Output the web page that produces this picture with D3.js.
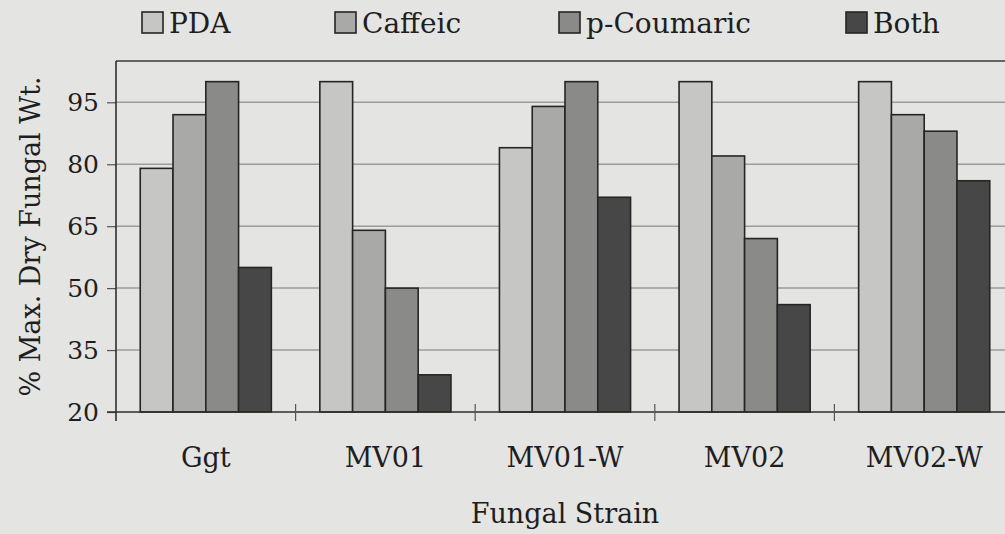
<!DOCTYPE html>
<html>
<head>
<meta charset="utf-8">
<script src="https://cdn.jsdelivr.net/npm/d3@7"></script>
<style>
  html, body { margin: 0; padding: 0; background: #e4e4e2; }
  svg { display: block; }
  text { font-family: "DejaVu Serif", serif; fill: #1e1e1e; }
</style>
</head>
<body>
<svg id="chart" width="1005" height="534"></svg>
<script>
const categories = ["Ggt", "MV01", "MV01-W", "MV02", "MV02-W"];
const seriesNames = ["PDA", "Caffeic", "p-Coumaric", "Both"];
const PDA = [79, 100, 84, 100, 100];
const Caffeic = [92, 64, 94, 82, 92];
const pCoumaric = [100, 50, 100, 62, 88];
const Both = [55, 29, 72, 46, 76];
const yTicks = [20, 35, 50, 65, 80, 95];
const colors = ["#c6c6c4", "#a9a9a7", "#8a8a88", "#474747"];

const seriesValues = [PDA, Caffeic, pCoumaric, Both];

const svg = d3.select("#chart");
const plot = { left: 116, right: 1014, top: 61, bottom: 412 };

const y = d3.scaleLinear().domain([20, 105]).range([plot.bottom, plot.top]);
const x0 = d3.scaleBand().domain(categories).range([plot.left, plot.right]).padding(0);
const step = x0.step();
const groupW = step * 0.73;
const x1 = d3.scaleBand().domain(seriesNames)
  .range([(step - groupW) / 2, (step + groupW) / 2]).padding(0);

// gridlines
svg.append("g").selectAll("line").data(yTicks.filter(t => t > 20)).join("line")
  .attr("x1", plot.left).attr("x2", 1005)
  .attr("y1", d => y(d)).attr("y2", d => y(d))
  .attr("stroke", "#9c9c9a").attr("stroke-width", 1.5);

// top frame
svg.append("line").attr("x1", plot.left).attr("x2", 1005)
  .attr("y1", plot.top).attr("y2", plot.top)
  .attr("stroke", "#3a3a3a").attr("stroke-width", 1.5);

// bars
const groups = svg.append("g").selectAll("g").data(categories).join("g")
  .attr("transform", d => `translate(${x0(d)},0)`);
groups.selectAll("rect")
  .data((c, i) => seriesNames.map((s, j) => ({ s, j, v: seriesValues[j][i] })))
  .join("rect")
  .attr("x", d => x1(d.s))
  .attr("width", x1.bandwidth())
  .attr("y", d => y(d.v))
  .attr("height", d => y(20) - y(d.v))
  .attr("fill", d => colors[d.j])
  .attr("stroke", "#252525").attr("stroke-width", 1.6);

// y axis
const yAxis = d3.axisLeft(y).tickValues(yTicks).tickSize(9).tickPadding(8);
const gy = svg.append("g").attr("transform", `translate(${plot.left},0)`).call(yAxis);
gy.select(".domain").remove();
gy.selectAll(".tick line").attr("stroke", "#555").attr("stroke-width", 1.2);
gy.selectAll(".tick text").style("font-size", "25px").style("font-family", "DejaVu Serif, serif").attr("fill", "#1e1e1e");
svg.append("line").attr("x1", plot.left).attr("x2", plot.left)
  .attr("y1", plot.top).attr("y2", plot.bottom + 9)
  .attr("stroke", "#2e2e2e").attr("stroke-width", 1.6);

// x axis
svg.append("line").attr("x1", plot.left - 9).attr("x2", 1005)
  .attr("y1", plot.bottom).attr("y2", plot.bottom)
  .attr("stroke", "#2e2e2e").attr("stroke-width", 1.6);
const bounds = categories.slice(1).map(c => x0(c));
svg.append("g").selectAll("line").data(bounds).join("line")
  .attr("x1", d => d).attr("x2", d => d)
  .attr("y1", plot.bottom - 8).attr("y2", plot.bottom + 9)
  .attr("stroke", "#555").attr("stroke-width", 1.2);
svg.append("g").selectAll("text").data(categories).join("text")
  .attr("x", d => x0(d) + step / 2)
  .attr("y", 467)
  .attr("text-anchor", "middle")
  .style("font-size", "27px")
  .text(d => d);

// axis titles
svg.append("text").attr("x", (plot.left + plot.right) / 2).attr("y", 523)
  .attr("text-anchor", "middle").style("font-size", "27px").text("Fungal Strain");
svg.append("text").attr("transform", `translate(40,${(plot.top + plot.bottom) / 2}) rotate(-90)`)
  .attr("text-anchor", "middle").style("font-size", "27px").text("% Max. Dry Fungal Wt.");

// legend
const legendX = [142, 335, 559, 846];
const lg = svg.append("g").selectAll("g").data(seriesNames).join("g")
  .attr("transform", (d, i) => `translate(${legendX[i]},12)`);
lg.append("rect").attr("width", 21).attr("height", 21)
  .attr("fill", (d, i) => colors[i]).attr("stroke", "#252525").attr("stroke-width", 1.6);
lg.append("text").attr("x", 27).attr("y", 21).style("font-size", "28px").text(d => d);
</script>
</body>
</html>
